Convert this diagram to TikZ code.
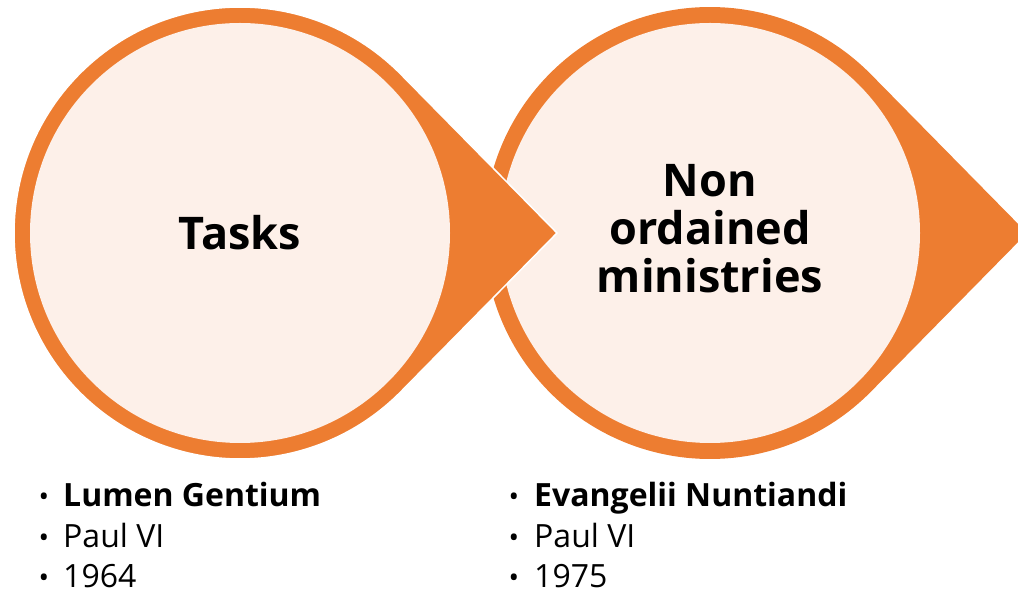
\documentclass[tikz,border=0pt]{standalone}
\usepackage{fontspec}
\setmainfont{Open Sans}
\definecolor{accent}{HTML}{ED7D31}
\definecolor{lightfill}{HTML}{FDF0E9}
\begin{document}
\begin{tikzpicture}[x=1pt,y=1pt,
  tear/.style={fill=accent, draw=white, line width=1.5pt, line join=miter},
  innerdisc/.style={fill=lightfill},
  titletext/.style={font=\fontsize{45}{46}\selectfont\bfseries, inner sep=0pt, anchor=base},
  itemtext/.style={font=\fontsize{32}{40}\selectfont, inner sep=0pt, anchor=base west},
  bullettext/.style={font=\fontsize{28}{28}\selectfont, inner sep=0pt, anchor=base}]
\useasboundingbox (0,0) rectangle (1018,591);
\clip (0,0) rectangle (1018,591);
\coordinate (c1) at (240,358);
\coordinate (c2) at (710,358);
\coordinate (p1) at (557,358);
\coordinate (p2) at (1027,358);
% second shape (drawn first, lies below)
\fill[accent] (p2) -- ([shift={(c2)}]44.5:226pt) arc[start angle=44.5,end angle=315.5,radius=226pt] -- cycle;
\fill[innerdisc] (c2) circle[radius=210pt];
% first shape
\draw[tear] (p1) -- ([shift={(c1)}]44.5:226pt) arc[start angle=44.5,end angle=315.5,radius=226pt] -- cycle;
\fill[innerdisc] (c1) circle[radius=210pt];
% titles
\node[titletext] (t1) at (240,341) {Tasks};
\node[titletext] (t2a) at (710,394) {Non};
\node[titletext] (t2b) at (710,346) {ordained};
\node[titletext] (t2c) at (710,298) {ministries};
% lists
\node[bullettext] (b1a) at (44,84) {•};
\node[bullettext] (b1b) at (44,43) {•};
\node[bullettext] (b1c) at (44,3) {•};
\node[itemtext] (l1a) at (63,84) {\bfseries Lumen Gentium};
\node[itemtext] (l1b) at (63,43) {Paul VI};
\node[itemtext] (l1c) at (63,3) {1964};
\node[bullettext] (b2a) at (514,84) {•};
\node[bullettext] (b2b) at (514,43) {•};
\node[bullettext] (b2c) at (514,3) {•};
\node[itemtext] (l2a) at (534,84) {\bfseries Evangelii Nuntiandi};
\node[itemtext] (l2b) at (534,43) {Paul VI};
\node[itemtext] (l2c) at (534,3) {1975};
\end{tikzpicture}
\end{document}
